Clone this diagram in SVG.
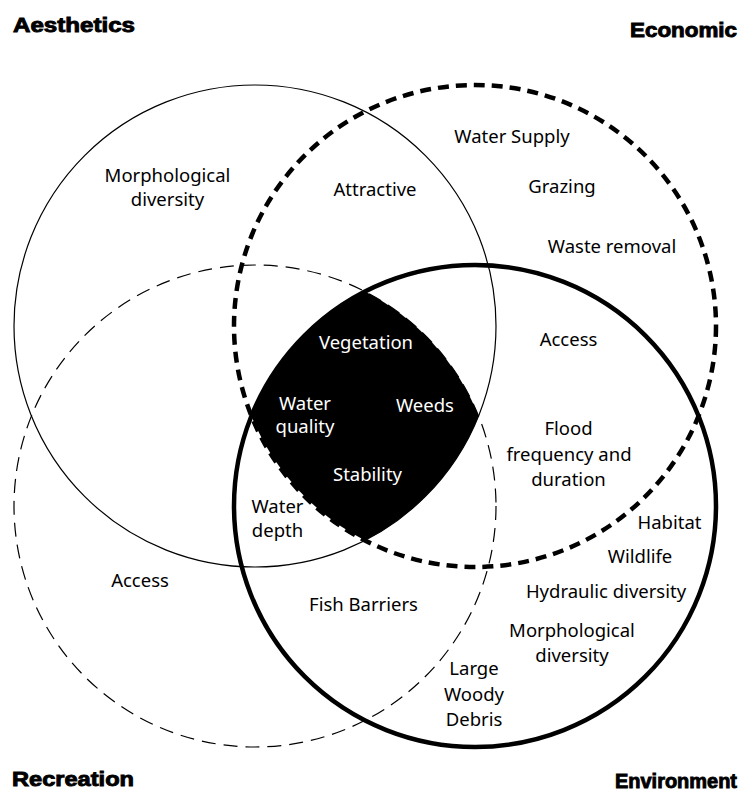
<svg xmlns="http://www.w3.org/2000/svg" width="742" height="792" viewBox="0 0 742 792">
  <style>
    .set { fill: none; stroke: #000; }
    .thin { stroke-width: 1.2; }
    .thick { stroke-width: 4.5; }
    .dash-thin { stroke-dasharray: 14 8; }
    .dash-thick { stroke-dasharray: 11 7; }
    .title { font-family: "Liberation Sans", Arial, sans-serif; font-weight: bold; font-size: 20px; fill: #000; stroke: #000; stroke-width: 0.9; }
    .lbl { font-family: "Noto Sans", "Liberation Sans", sans-serif; font-size: 18.5px; fill: #000; text-anchor: middle; }
    .inv { fill: #fff; }
  </style>
  <rect width="742" height="792" fill="#fff"/>

  <g id="aesthetics">
    <circle class="set thin" cx="255" cy="326" r="241"/>
    <text class="title" x="13" y="32" textLength="122" lengthAdjust="spacingAndGlyphs">Aesthetics</text>
  </g>
  <g id="economic">
    <circle class="set thick dash-thick" cx="475" cy="326" r="241"/>
    <text class="title" x="630" y="37" textLength="107" lengthAdjust="spacingAndGlyphs">Economic</text>
  </g>
  <g id="recreation">
    <circle class="set thin dash-thin" cx="255" cy="506" r="241"/>
    <text class="title" x="12" y="786" textLength="122" lengthAdjust="spacingAndGlyphs">Recreation</text>
  </g>
  <g id="environment">
    <circle class="set thick" cx="475" cy="506" r="241"/>
    <text class="title" x="615" y="788" textLength="122" lengthAdjust="spacingAndGlyphs">Environment</text>
  </g>

  <g id="core">
    <path d="M 365 291.6 A 241 241 0 0 1 478.6 416 A 241 241 0 0 1 365 540.4 A 241 241 0 0 1 251.4 416 A 241 241 0 0 1 365 291.6 Z" fill="#000"/>
    <text class="lbl inv" x="366" y="349">Vegetation</text>
    <text class="lbl inv" x="305" y="410">Water</text>
    <text class="lbl inv" x="305" y="433">quality</text>
    <text class="lbl inv" x="425" y="412">Weeds</text>
    <text class="lbl inv" x="367.5" y="481">Stability</text>
  </g>

  <g id="labels">
    <text class="lbl" x="167.5" y="182">Morphological</text>
    <text class="lbl" x="167.5" y="206">diversity</text>
    <text class="lbl" x="375" y="196">Attractive</text>
    <text class="lbl" x="512" y="143">Water Supply</text>
    <text class="lbl" x="562" y="193">Grazing</text>
    <text class="lbl" x="612" y="253">Waste removal</text>
    <text class="lbl" x="568.5" y="346">Access</text>
    <text class="lbl" x="568.5" y="435">Flood</text>
    <text class="lbl" x="569" y="461">frequency and</text>
    <text class="lbl" x="568.5" y="486">duration</text>
    <text class="lbl" x="669.5" y="529">Habitat</text>
    <text class="lbl" x="640" y="563">Wildlife</text>
    <text class="lbl" x="606" y="598">Hydraulic diversity</text>
    <text class="lbl" x="572" y="637">Morphological</text>
    <text class="lbl" x="572" y="662">diversity</text>
    <text class="lbl" x="474" y="675">Large</text>
    <text class="lbl" x="474" y="701">Woody</text>
    <text class="lbl" x="474" y="726">Debris</text>
    <text class="lbl" x="277.5" y="513">Water</text>
    <text class="lbl" x="277.5" y="537">depth</text>
    <text class="lbl" x="140" y="587">Access</text>
    <text class="lbl" x="363.5" y="611">Fish Barriers</text>
  </g>
</svg>
